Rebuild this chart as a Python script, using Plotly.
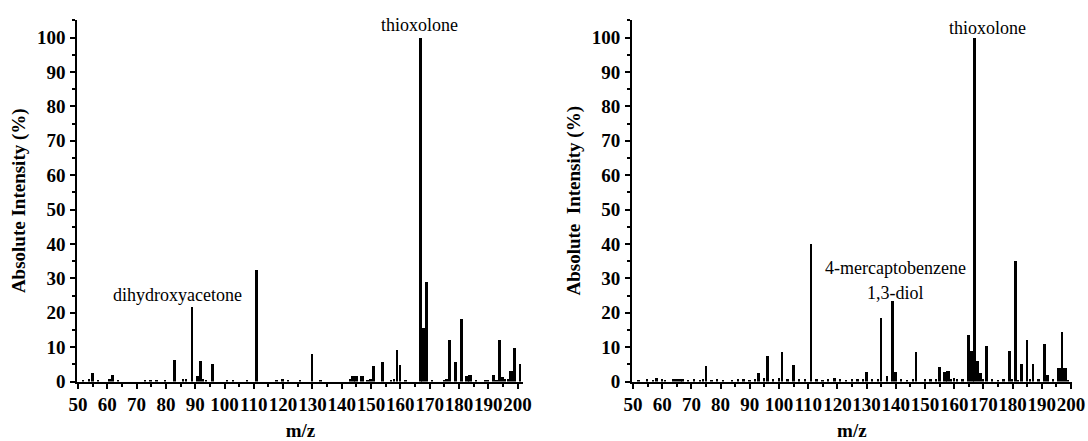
import plotly.graph_objects as go

# ---------------- data: left spectrum ----------------
left_peak_mz = [55, 62, 83, 89, 91, 92, 96, 111, 130, 151, 154, 159, 160,
                167, 169, 177, 179, 181, 192, 194, 195, 199, 201]
left_peak_int = [2.5, 2.0, 6.3, 21.6, 1.6, 6.1, 5.1, 32.5, 8.0, 4.4, 5.6, 9.2, 4.8,
                 100.0, 28.9, 12.0, 5.8, 18.2, 2.0, 12.0, 1.3, 9.7, 5.0]
left_cluster_mz = [144, 145, 147, 168, 183, 184, 198]
left_cluster_int = [1.5, 1.5, 1.5, 15.5, 1.6, 2.0, 3.0]
left_noise_mz = [52, 54, 57, 61, 64, 73, 75, 77, 80, 86, 87, 93, 94, 101, 103, 108,
                 118, 120, 122, 126, 133, 143, 149, 150, 157, 158, 162, 171, 175,
                 176, 186, 189, 190, 193, 196, 197]
left_noise_int = [0.4, 0.7, 0.3, 0.8, 0.5, 0.4, 0.5, 0.4, 0.5, 0.6, 0.7, 0.6, 0.5, 0.5,
                  0.4, 0.3, 0.5, 0.6, 0.5, 0.4, 0.3, 0.6, 0.4, 0.6, 0.4, 0.7, 0.3, 0.5,
                  0.4, 0.6, 0.4, 0.3, 0.5, 0.4, 0.8, 0.6]

# ---------------- data: right spectrum ----------------
right_peak_mz = [58, 75, 93, 96, 101, 105, 111, 119, 130, 135, 137, 139, 140, 147,
                 155, 160, 165, 167, 168, 169, 171, 179, 181, 183, 185, 187, 191,
                 192, 197]
right_peak_int = [1.0, 4.6, 2.4, 7.5, 8.5, 4.9, 39.9, 0.9, 2.9, 18.5, 1.7, 23.4, 2.9,
                  8.6, 4.2, 1.1, 13.6, 100.0, 6.0, 2.5, 10.4, 9.0, 35.0, 5.0, 12.0,
                  5.0, 10.9, 1.8, 14.4]
right_cluster_mz = [66, 67, 157, 158, 166, 196, 198]
right_cluster_int = [0.7, 0.8, 2.7, 3.0, 9.0, 4.0, 4.0]
right_noise_mz = [52, 55, 57, 60, 61, 64, 65, 69, 71, 73, 74, 77, 79, 81, 84, 86, 88,
                  90, 92, 95, 98, 100, 103, 107, 109, 113, 115, 117, 121, 123, 125,
                  127, 129, 132, 134, 142, 144, 146, 150, 152, 154, 159, 161, 163,
                  170, 173, 175, 177, 180, 182, 186, 189, 194, 199]
right_noise_int = [0.5, 0.6, 0.5, 0.6, 0.5, 0.6, 0.6, 0.5, 0.6, 0.5, 0.8, 0.4, 0.6,
                   0.5, 0.5, 0.7, 0.6, 0.5, 0.8, 0.9, 0.6, 0.9, 0.6, 0.8, 0.8, 0.6,
                   0.5, 0.6, 0.6, 0.5, 0.6, 0.7, 0.6, 0.6, 0.7, 0.6, 0.5, 0.7, 0.6,
                   0.7, 0.6, 0.8, 0.6, 0.8, 0.6, 0.6, 0.5, 0.6, 0.6, 0.5, 0.6, 0.7,
                   0.6, 0.5]

x_tick_vals = list(range(50, 201, 10))
x_tick_text = [str(v) for v in x_tick_vals]
y_tick_vals = list(range(0, 101, 10))
y_tick_text = [str(v) for v in y_tick_vals]

x_title = "m/z"
left_y_title = "Absolute Intensity (%)"
right_y_title = "Absolute\u00a0\u00a0Intensity (%)"

# annotations: (text, x, y)
left_labels = [("thioxolone", 166.4, 103.6), ("dihydroxyacetone", 84, 25.1)]
right_labels = [("thioxolone", 171.5, 102.7), ("4-mercaptobenzene", 139.9, 32.9),
                ("1,3-diol", 139.9, 25.6)]

# ---------------- figure ----------------
W, H = 1088, 441
FONT = "Liberation Serif"
fig = go.Figure()

def add_panel(xa, ya, pmz, pint, cmz, cint, nmz, nint):
    fig.add_trace(go.Bar(x=nmz, y=nint, width=0.6, marker=dict(color="black", line=dict(width=0)),
                         xaxis=xa, yaxis=ya, showlegend=False, hoverinfo="x+y"))
    fig.add_trace(go.Bar(x=cmz, y=cint, width=1.3, marker=dict(color="black", line=dict(width=0)),
                         xaxis=xa, yaxis=ya, showlegend=False, hoverinfo="x+y"))
    fig.add_trace(go.Bar(x=pmz, y=pint, width=0.9, marker=dict(color="black", line=dict(width=0)),
                         xaxis=xa, yaxis=ya, showlegend=False, hoverinfo="x+y"))

add_panel("x", "y", left_peak_mz, left_peak_int, left_cluster_mz, left_cluster_int,
          left_noise_mz, left_noise_int)
add_panel("x2", "y2", right_peak_mz, right_peak_int, right_cluster_mz, right_cluster_int,
          right_noise_mz, right_noise_int)

y_bot = 1 - 381.5 / H
y_top = 1 - 20 / H

TICKFONT = dict(family=FONT, size=19, color="black", weight="bold")
TITLEFONT = dict(family=FONT, size=19, color="black", weight="bold")

def xaxis_cfg(dom, rng):
    return dict(domain=dom, range=rng, showline=True, linewidth=2, linecolor="black",
                automargin=False,
                ticks="outside", ticklen=5, tickwidth=2, tickcolor="black",
                tickmode="array", tickvals=x_tick_vals, ticktext=x_tick_text, tickangle=0,
                minor=dict(ticks="outside", ticklen=3, tickwidth=1.5, tickcolor="black", dtick=5, tick0=50),
                showgrid=False, zeroline=False, tickfont=TICKFONT,
                title=dict(text=x_title, font=TITLEFONT, standoff=12))

def yaxis_cfg(anchor, title):
    return dict(domain=[y_bot, y_top], range=[0, 105.1], anchor=anchor, showline=True,
                automargin=False,
                linewidth=2, linecolor="black", ticks="outside", ticklen=5, tickwidth=2,
                tickcolor="black", tickmode="array", tickvals=y_tick_vals, ticktext=y_tick_text,
                ticklabelstandoff=1,
                minor=dict(ticks="outside", ticklen=3, tickwidth=1.5, tickcolor="black", dtick=5, tick0=0),
                showgrid=False, zeroline=False, tickfont=TICKFONT,
                title=dict(text=title, font=TITLEFONT, standoff=6))

lx = [77.4 / W, 523.4 / W]
rx = [632.1 / W, 1071.6 / W]

fig.update_layout(
    width=W, height=H, margin=dict(l=0, r=0, t=0, b=0, autoexpand=False),
    paper_bgcolor="white", plot_bgcolor="white", bargap=0, barmode="overlay",
    xaxis=xaxis_cfg(lx, [49.8, 202.0]) | dict(anchor="y"),
    yaxis=yaxis_cfg("x", left_y_title),
    xaxis2=xaxis_cfg(rx, [49.7, 200.2]) | dict(anchor="y2"),
    yaxis2=yaxis_cfg("x2", right_y_title),
    showlegend=False,
)

for text, x, y in left_labels:
    fig.add_annotation(text=text, x=x, y=y, xref="x", yref="y", showarrow=False,
                       font=dict(family=FONT, size=18, color="black"), yanchor="middle")
for text, x, y in right_labels:
    fig.add_annotation(text=text, x=x, y=y, xref="x2", yref="y2", showarrow=False,
                       font=dict(family=FONT, size=18, color="black"), yanchor="middle")

fig.write_html(
    "out.html",
    config={"displayModeBar": False},
    post_script="document.body.style.margin='0';document.body.style.overflow='hidden';",
)
